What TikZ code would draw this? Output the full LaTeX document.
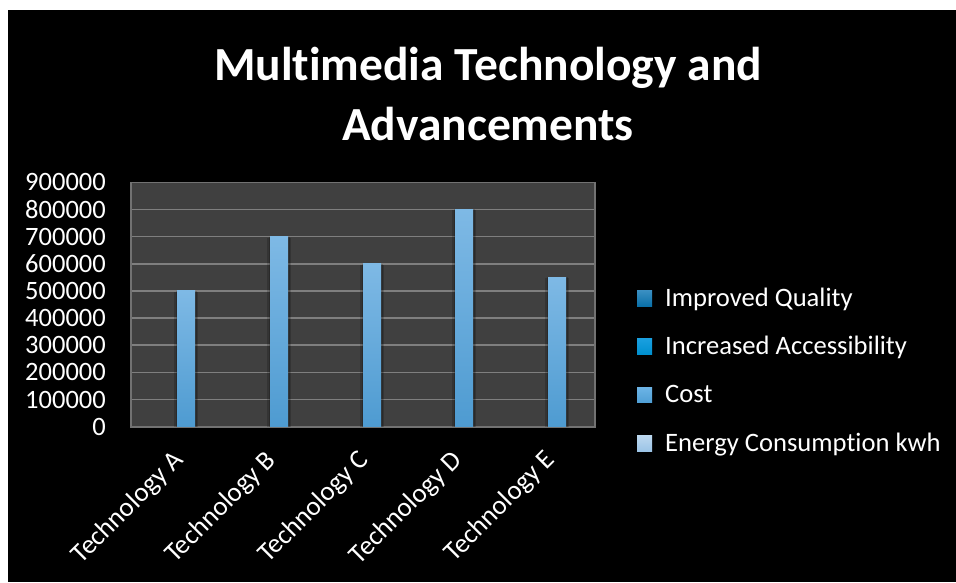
\documentclass[tikz,border=0pt]{standalone}
\usepackage{fontspec}
\setmainfont{Carlito}[Ligatures=NoCommon]
\definecolor{plotbg}{HTML}{404040}
\definecolor{gridc}{HTML}{7F7F7F}
\definecolor{bartop}{HTML}{7EB9E5}
\definecolor{barbot}{HTML}{4E9BD1}
\definecolor{lgAt}{HTML}{3A8FC2}\definecolor{lgAb}{HTML}{0A70A8}
\definecolor{lgBt}{HTML}{1AA0E0}\definecolor{lgBb}{HTML}{0090CF}
\definecolor{lgCt}{HTML}{6DB4E6}\definecolor{lgCb}{HTML}{4F9FD5}
\definecolor{lgDt}{HTML}{BCD8F0}\definecolor{lgDb}{HTML}{9CC4E6}
\tikzset{
  ticklab/.style={text=white,font=\fontsize{26.5}{30}\selectfont,inner sep=0pt,anchor=east},
  catlab/.style={text=white,font=\fontsize{27}{30}\selectfont,inner sep=0pt,anchor=base east,rotate=45},
  leglab/.style={text=white,font=\fontsize{26.6}{30}\selectfont,inner sep=0pt,anchor=base west},
  titlelab/.style={text=white,font=\fontsize{47.5}{52}\selectfont\bfseries,inner sep=0pt,anchor=base},
  gridline/.style={draw=gridc,line width=1.6pt},
}
\begin{document}
\begin{tikzpicture}[x=1pt,y=-1pt]
\useasboundingbox (0,0) rectangle (956,582);
\fill[white] (0,0) rectangle (956,582);
\fill[black] (8,10) rectangle (956,582);
% title
\node[titlelab] (t1) at (488,80) {Multimedia Technology and};
\node[titlelab] (t2) at (488,140) {Advancements};
% plot area
\fill[plotbg] (130.7,182.3) rectangle (594.7,426.7);
\foreach \i in {1,...,8} {
  \draw[gridline] (130.7,{426.7-\i*27.156}) -- (594.7,{426.7-\i*27.156});
}
\draw[draw=gridc!110,line width=1.6pt] (130.7,182.3) rectangle (594.7,426.7);
% y labels
\foreach \i/\lab in {0/0,1/100000,2/200000,3/300000,4/400000,5/500000,6/600000,7/700000,8/800000,9/900000} {
  \node[ticklab] (y\i) at (106,{426.7-\i*27.156}) {\lab};
}
% bars
\foreach \nm/\xl/\v in {A/177/5,B/270/7,C/363/6,D/455/8,E/548/5.5} {
  \fill[black,opacity=0.18] (\xl-3,{426.7-\v*27.156+1}) rectangle (\xl+21,426.7);
  \fill[black,opacity=0.18] (\xl-1.5,{426.7-\v*27.156}) rectangle (\xl+19.5,426.7);
  \shade[top color=bartop,bottom color=barbot,middle color=bartop!50!barbot] (\xl,{426.7-\v*27.156}) rectangle (\xl+18,426.7);
  \coordinate (bar\nm) at (\xl+9,426.7);
}
% category labels
\foreach \nm/\cx in {A/177.1,B/269.9,C/362.7,D/455.5,E/548.3} {
  \node[catlab] (c\nm) at (\cx+7.5,461.5) {Technology \nm};
}
% legend
\foreach \k/\yb/\txt in {A/306/Improved Quality,B/354/Increased Accessibility,C/402.5/Cost,D/451/Energy Consumption kwh} {
  \shade[top color=lg\k t,bottom color=lg\k b] (637,\yb-15.5) rectangle (652,\yb);
  \node[leglab] (l\k) at (665,\yb) {\txt};
}
\end{tikzpicture}
\end{document}
